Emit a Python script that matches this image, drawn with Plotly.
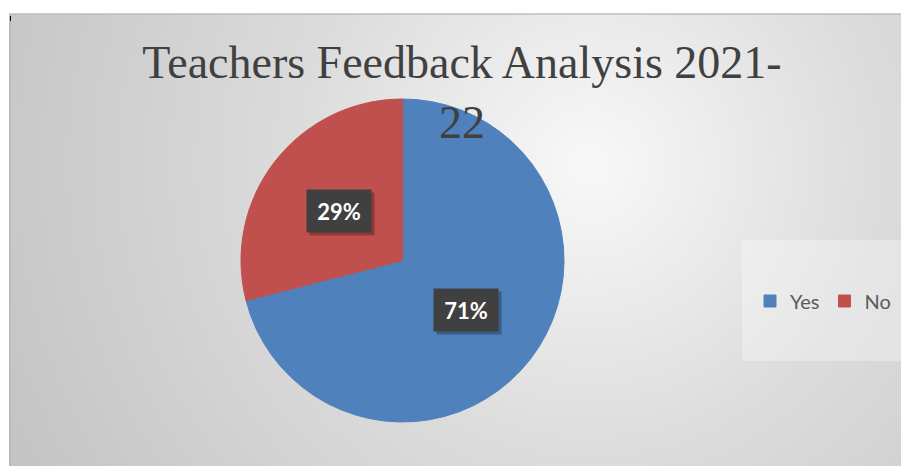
import base64
import math
import plotly.graph_objects as go

# ---- data ----
labels = ["Yes", "No"]
values = [71, 29]
colors = ["#4F81BD", "#C0504D"]
title_text = "Teachers Feedback Analysis 2021-<br>22"

W, H = 901, 466

# background radial gradient (chart area starts at x=9, y=14)
bx0, by0 = 9, 14
bw, bh = W - bx0, H - by0
svg = f'''<svg xmlns="http://www.w3.org/2000/svg" width="{bw}" height="{bh}" viewBox="0 0 {bw} {bh}">
<defs><radialGradient id="g" gradientUnits="userSpaceOnUse" cx="{590-bx0}" cy="{165-by0}" r="640">
<stop offset="0" stop-color="#f8f8f8"/><stop offset="0.45" stop-color="#dcdcdc"/><stop offset="1" stop-color="#c4c4c4"/>
</radialGradient></defs>
<rect x="0" y="0" width="{bw}" height="{bh}" fill="url(#g)"/>
<rect x="0" y="0" width="2" height="{bh}" fill="#000" fill-opacity="0.05"/>
</svg>'''
src = "data:image/svg+xml;base64," + base64.b64encode(svg.encode()).decode()

# pie geometry (pixels)
pcx, pcy, pr = 402.5, 260.5, 161.5
dom_x = [(pcx - pr) / W, (pcx + pr) / W]
dom_y = [1 - (pcy + pr) / H, 1 - (pcy - pr) / H]

fig = go.Figure(go.Pie(
    labels=labels, values=values,
    marker=dict(colors=colors, line=dict(width=1, color=colors)),
    sort=False, direction="clockwise", rotation=0,
    textinfo="none", hoverinfo="label+percent",
    domain=dict(x=dom_x, y=dom_y),
))

# data labels at half radius along slice mid-angle
total = sum(values)
cum = 0
annotations = []
for lab, v in zip(labels, values):
    mid = (cum + v / 2) / total * 2 * math.pi
    cum += v
    lx = pcx + 0.5 * pr * math.sin(mid)
    ly = pcy - 0.5 * pr * math.cos(mid)
    xp, yp = lx / W, 1 - ly / H
    pct = f"{round(100 * v / total)}%"
    annotations.append(dict(x=xp, y=yp, xref="paper", yref="paper", text=" ",
                            showarrow=False, width=60, height=38, borderpad=2,
                            bgcolor="rgba(0,0,0,0.28)", xshift=3, yshift=-3))
    annotations.append(dict(x=xp, y=yp, xref="paper", yref="paper", text=f"<b>{pct}</b>",
                            showarrow=False, width=60, height=38, borderpad=2,
                            bgcolor="#404040",
                            font=dict(family="Lato", size=22, color="white")))

fig.update_layout(
    width=W, height=H,
    margin=dict(l=0, r=0, t=0, b=0, autoexpand=False),
    paper_bgcolor="white",
    title=dict(text=title_text, x=462 / W, xanchor="center", y=1 - 78 / H, yanchor="top",
               yref="container",
               font=dict(family="Liberation Serif", size=46, color="#404040")),
    images=[dict(source=src, xref="paper", yref="paper", x=bx0 / W, y=1 - by0 / H,
                 sizex=bw / W, sizey=bh / H, xanchor="left", yanchor="top",
                 sizing="stretch", layer="below")],
    shapes=[
        dict(type="rect", xref="paper", yref="paper", x0=742 / W, x1=1, y0=1 - 361 / H, y1=1 - 240 / H,
             fillcolor="rgba(255,255,255,0.3)", line=dict(width=0), layer="below"),
        dict(type="line", xref="paper", yref="paper", x0=bx0 / W, x1=1, y0=1 - by0 / H, y1=1 - by0 / H,
             line=dict(color="#bdbdbd", width=1.5)),
        dict(type="line", xref="paper", yref="paper", x0=10.5 / W, x1=10.5 / W, y0=1 - 16 / H, y1=1 - 21 / H,
             line=dict(color="#000000", width=1)),
    ],
    annotations=annotations,
    legend=dict(orientation="h", x=750 / W, xanchor="left", y=1 - 301 / H, yanchor="middle",
                bgcolor="rgba(0,0,0,0)", font=dict(family="Lato", size=20, color="#595959"),
                itemclick=False, itemdoubleclick=False),
    showlegend=True,
)

fig.write_html("out.html", config={"displayModeBar": False},
               post_script="document.body.style.margin='0';document.body.style.overflow='hidden';")
